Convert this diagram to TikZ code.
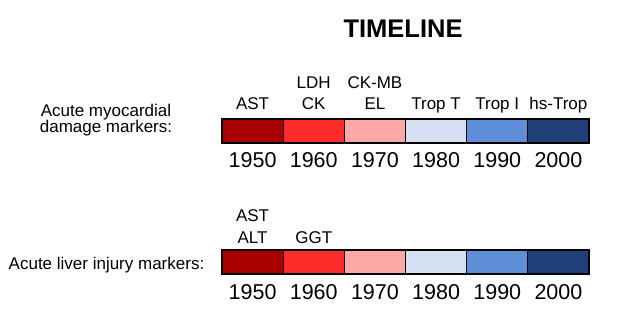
\documentclass[tikz,border=0pt]{standalone}
\usepackage{fontspec}
\setmainfont{Liberation Sans}
\definecolor{dkred}{RGB}{168,0,0}
\definecolor{brred}{RGB}{255,43,43}
\definecolor{ltred}{RGB}{255,168,168}
\definecolor{ltblue}{RGB}{213,224,242}
\definecolor{mdblue}{RGB}{94,142,216}
\definecolor{dkblue}{RGB}{32,63,121}
\begin{document}
\begin{tikzpicture}[x=1pt,y=-1pt,every node/.style={font=\fontsize{17}{21.5}\selectfont,inner sep=0pt,align=center},
  cell/.style={draw=black,line width=1.3pt,minimum width=61.17pt,minimum height=24pt},
  yr/.style={font=\fontsize{21.5}{25}\selectfont,anchor=base}]
\useasboundingbox (0,0) rectangle (630,315);
\node[font=\bfseries\fontsize{25.5}{28}\selectfont,anchor=base] (title) at (403,38) {TIMELINE};
\node[anchor=base,font=\fontsize{17}{16.5}\selectfont] (heartlbl) at (106,133) {Acute myocardial\\damage markers:};
\node[anchor=base] (liverlbl) at (106.5,270) {Acute liver injury markers:};
\foreach \c/\y/\m [count=\i from 0] in {dkred/1950/AST,brred/1960/LDH\\CK,ltred/1970/CK-MB\\EL,ltblue/1980/Trop T,mdblue/1990/Trop I,dkblue/2000/hs-Trop}{
  \node[cell,fill=\c] (h\i) at (252.58+61.17*\i,131) {}; \node[cell,fill=\c] (l\i) at (252.58+61.17*\i,262) {};
  \node[yr] (hy\i) at (252.58+61.17*\i,168) {\y}; \node[yr] (ly\i) at (252.58+61.17*\i,300) {\y};
  \node[anchor=base] (hm\i) at (252.58+61.17*\i,110) {\m};
}
\node[anchor=base] (lm0) at (252.58,243.5) {AST\\ALT}; \node[anchor=base] (lm1) at (313.75,243.5) {GGT};
\end{tikzpicture}
\end{document}
